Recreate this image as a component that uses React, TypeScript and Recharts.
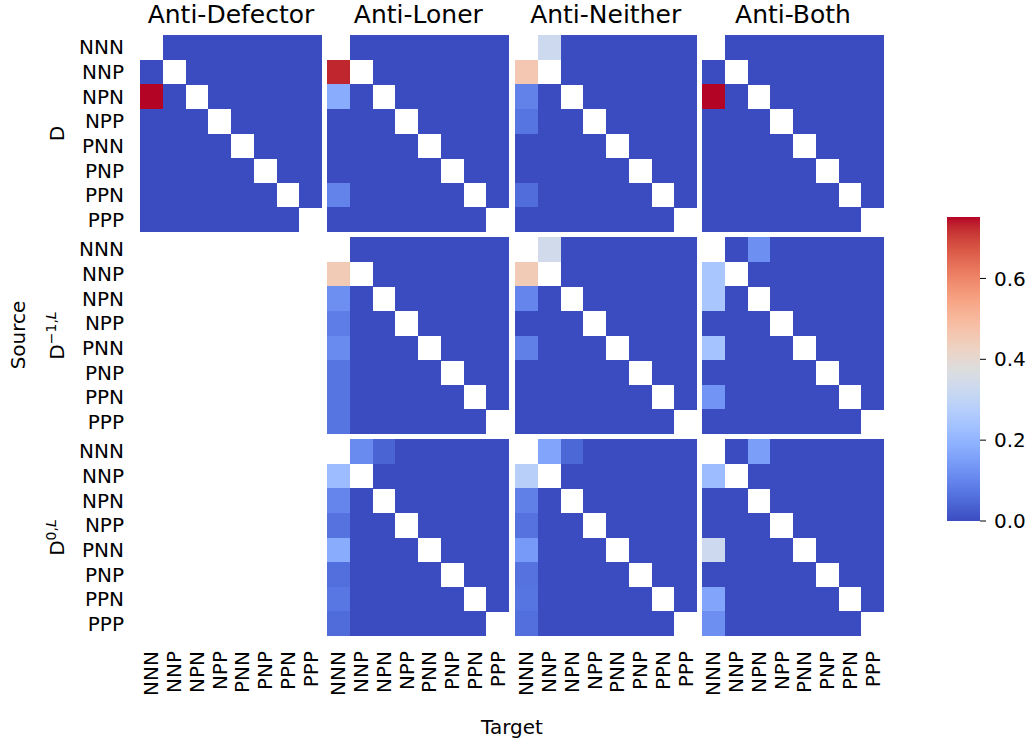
import { Bar, BarChart, Cell, XAxis, YAxis } from "recharts";

const STATES = ["NNN", "NNP", "NPN", "NPP", "PNN", "PNP", "PPN", "PPP"];
const PANEL_TITLES = ["Anti-Defector", "Anti-Loner", "Anti-Neither", "Anti-Both"];

const _ = null;

// row 1: D
const D_DEFECTOR = [
  [_, 0, 0, 0, 0, 0, 0, 0],
  [0, _, 0, 0, 0, 0, 0, 0],
  [0.752, 0, _, 0, 0, 0, 0, 0],
  [0, 0, 0, _, 0, 0, 0, 0],
  [0, 0, 0, 0, _, 0, 0, 0],
  [0, 0, 0, 0, 0, _, 0, 0],
  [0, 0, 0, 0, 0, 0, _, 0],
  [0, 0, 0, 0, 0, 0, 0, _],
];
const D_LONER = [
  [_, 0, 0, 0, 0, 0, 0, 0],
  [0.73, _, 0, 0, 0, 0, 0, 0],
  [0.18, 0, _, 0, 0, 0, 0, 0],
  [0, 0, 0, _, 0, 0, 0, 0],
  [0, 0, 0, 0, _, 0, 0, 0],
  [0, 0, 0, 0, 0, _, 0, 0],
  [0.096, 0, 0, 0, 0, 0, _, 0],
  [0, 0, 0, 0, 0, 0, 0, _],
];
const D_NEITHER = [
  [_, 0.33, 0, 0, 0, 0, 0, 0],
  [0.46, _, 0, 0, 0, 0, 0, 0],
  [0.094, 0, _, 0, 0, 0, 0, 0],
  [0.07, 0, 0, _, 0, 0, 0, 0],
  [0, 0, 0, 0, _, 0, 0, 0],
  [0, 0, 0, 0, 0, _, 0, 0],
  [0.056, 0, 0, 0, 0, 0, _, 0],
  [0, 0, 0, 0, 0, 0, 0, _],
];
const D_BOTH = [
  [_, 0, 0, 0, 0, 0, 0, 0],
  [0, _, 0, 0, 0, 0, 0, 0],
  [0.752, 0, _, 0, 0, 0, 0, 0],
  [0, 0, 0, _, 0, 0, 0, 0],
  [0, 0, 0, 0, _, 0, 0, 0],
  [0, 0, 0, 0, 0, _, 0, 0],
  [0, 0, 0, 0, 0, 0, _, 0],
  [0, 0, 0, 0, 0, 0, 0, _],
];

// no data for Anti-Defector in the L rows
const EMPTY = [
  [_, _, _, _, _, _, _, _],
  [_, _, _, _, _, _, _, _],
  [_, _, _, _, _, _, _, _],
  [_, _, _, _, _, _, _, _],
  [_, _, _, _, _, _, _, _],
  [_, _, _, _, _, _, _, _],
  [_, _, _, _, _, _, _, _],
  [_, _, _, _, _, _, _, _],
];

// row 2: D^{-1,L}
const M1_LONER = [
  [_, 0, 0, 0, 0, 0, 0, 0],
  [0.45, _, 0, 0, 0, 0, 0, 0],
  [0.12, 0, _, 0, 0, 0, 0, 0],
  [0.085, 0, 0, _, 0, 0, 0, 0],
  [0.11, 0, 0, 0, _, 0, 0, 0],
  [0.07, 0, 0, 0, 0, _, 0, 0],
  [0.07, 0, 0, 0, 0, 0, _, 0],
  [0.07, 0, 0, 0, 0, 0, 0, _],
];
const M1_NEITHER = [
  [_, 0.34, 0, 0, 0, 0, 0, 0],
  [0.45, _, 0, 0, 0, 0, 0, 0],
  [0.1, 0, _, 0, 0, 0, 0, 0],
  [0, 0, 0, _, 0, 0, 0, 0],
  [0.09, 0, 0, 0, _, 0, 0, 0],
  [0, 0, 0, 0, 0, _, 0, 0],
  [0, 0, 0, 0, 0, 0, _, 0],
  [0, 0, 0, 0, 0, 0, 0, _],
];
const M1_BOTH = [
  [_, 0, 0.12, 0, 0, 0, 0, 0],
  [0.25, _, 0, 0, 0, 0, 0, 0],
  [0.25, 0, _, 0, 0, 0, 0, 0],
  [0, 0, 0, _, 0, 0, 0, 0],
  [0.24, 0, 0, 0, _, 0, 0, 0],
  [0, 0, 0, 0, 0, _, 0, 0],
  [0.13, 0, 0, 0, 0, 0, _, 0],
  [0, 0, 0, 0, 0, 0, 0, _],
];

// row 3: D^{0,L}
const Z_LONER = [
  [_, 0.11, 0.04, 0, 0, 0, 0, 0],
  [0.22, _, 0, 0, 0, 0, 0, 0],
  [0.1, 0, _, 0, 0, 0, 0, 0],
  [0.065, 0, 0, _, 0, 0, 0, 0],
  [0.18, 0, 0, 0, _, 0, 0, 0],
  [0.06, 0, 0, 0, 0, _, 0, 0],
  [0.075, 0, 0, 0, 0, 0, _, 0],
  [0.055, 0, 0, 0, 0, 0, 0, _],
];
const Z_NEITHER = [
  [_, 0.165, 0.045, 0, 0, 0, 0, 0],
  [0.28, _, 0, 0, 0, 0, 0, 0],
  [0.09, 0, _, 0, 0, 0, 0, 0],
  [0.065, 0, 0, _, 0, 0, 0, 0],
  [0.14, 0, 0, 0, _, 0, 0, 0],
  [0.065, 0, 0, 0, 0, _, 0, 0],
  [0.07, 0, 0, 0, 0, 0, _, 0],
  [0.06, 0, 0, 0, 0, 0, 0, _],
];
const Z_BOTH = [
  [_, 0, 0.15, 0, 0, 0, 0, 0],
  [0.22, _, 0, 0, 0, 0, 0, 0],
  [0, 0, _, 0, 0, 0, 0, 0],
  [0, 0, 0, _, 0, 0, 0, 0],
  [0.33, 0, 0, 0, _, 0, 0, 0],
  [0, 0, 0, 0, 0, _, 0, 0],
  [0.165, 0, 0, 0, 0, 0, _, 0],
  [0.12, 0, 0, 0, 0, 0, 0, _],
];

const GRID = [
  [D_DEFECTOR, D_LONER, D_NEITHER, D_BOTH],
  [EMPTY, M1_LONER, M1_NEITHER, M1_BOTH],
  [EMPTY, Z_LONER, Z_NEITHER, Z_BOTH],
];

const VMAX = 0.752;
const CB_TICKS = [0, 0.2, 0.4, 0.6];

// matplotlib coolwarm, 33 samples
const COOLWARM = [
  [59, 76, 192], [68, 90, 204], [77, 104, 215], [87, 117, 225], [98, 130, 234],
  [108, 142, 241], [119, 154, 247], [130, 165, 251], [141, 176, 254], [152, 185, 255],
  [163, 194, 255], [174, 201, 253], [184, 208, 249], [194, 213, 244], [204, 217, 238],
  [213, 219, 230], [221, 221, 221], [229, 216, 209], [236, 211, 197], [241, 204, 184],
  [245, 196, 173], [247, 187, 160], [247, 177, 148], [247, 166, 135], [244, 154, 123],
  [241, 141, 111], [236, 127, 99], [229, 112, 88], [222, 96, 77], [213, 80, 66],
  [203, 62, 56], [192, 40, 47], [180, 4, 38],
];

function coolwarm(t: number) {
  const c = Math.max(0, Math.min(1, t)) * (COOLWARM.length - 1);
  const i = Math.min(Math.floor(c), COOLWARM.length - 2);
  const f = c - i;
  const a = COOLWARM[i];
  const b = COOLWARM[i + 1];
  const ch = (k: number) => Math.round(a[k] + (b[k] - a[k]) * f);
  return `rgb(${ch(0)},${ch(1)},${ch(2)})`;
}

const cellColor = (v: number | null) => (v === null ? "none" : coolwarm(v / VMAX));

// layout
const COL_X = [140, 327.33, 514.67, 702];
const ROW_Y = [35, 237, 439];
const PANEL_W = 182;
const PANEL_H = 197;
const FONT = "'DejaVu Sans', sans-serif";

const XTick = (props: any) => {
  const { x, y, payload } = props;
  return (
    <text
      x={x}
      y={y}
      transform={`rotate(-90 ${x} ${y})`}
      textAnchor="end"
      dy="0.35em"
      fontSize={20}
      fill="#000"
    >
      {STATES[Math.floor(payload.value)]}
    </text>
  );
};

function Panel({ matrix, row, col }: { matrix: (number | null)[][]; row: number; col: number }) {
  const showY = col === 0;
  const showX = row === 2;
  const left = showY ? 0 : COL_X[col];
  const yW = showY ? COL_X[0] : 0;
  const xH = showX ? 90 : 0;
  const data = STATES.map((s) => {
    const r: Record<string, number | string> = { name: s };
    STATES.forEach((_t, j) => (r[`c${j}`] = 1));
    return r;
  });
  return (
    <div style={{ position: "absolute", left, top: ROW_Y[row] }}>
      <BarChart
        width={COL_X[col] + PANEL_W - left}
        height={PANEL_H + xH}
        data={data}
        layout="vertical"
        barCategoryGap={0}
        margin={{ top: 0, right: 0, bottom: 0, left: 0 }}
      >
        <XAxis
          type="number"
          domain={[0, 8]}
          ticks={STATES.map((_t, j) => j + 0.5)}
          interval={0}
          hide={!showX}
          height={xH}
          axisLine={false}
          tickLine={false}
          tickSize={0}
          tickMargin={15}
          tick={<XTick />}
        />
        <YAxis
          type="category"
          dataKey="name"
          hide={!showY}
          width={yW}
          interval={0}
          axisLine={false}
          tickLine={false}
          tickSize={0}
          tickMargin={16}
          tick={{ fontSize: 20, fill: "#000" }}
        />
        {STATES.map((t, j) => (
          <Bar key={t} dataKey={`c${j}`} stackId="s" isAnimationActive={false}>
            {STATES.map((s, i) => (
              <Cell key={s} fill={cellColor(matrix[i][j])} />
            ))}
          </Bar>
        ))}
      </BarChart>
    </div>
  );
}

function ColorBar() {
  const pad = 16;
  return (
    <div style={{ position: "absolute", left: 947, top: 216.7 - pad }}>
      <BarChart
        width={33 + 60}
        height={304 + 2 * pad}
        data={[{ name: "cb", v: VMAX }]}
        barCategoryGap={0}
        margin={{ top: pad, right: 0, bottom: pad, left: 0 }}
      >
        <defs>
          <linearGradient id="coolwarm" x1="0" y1="1" x2="0" y2="0">
            {COOLWARM.map((c, i) => (
              <stop
                key={i}
                offset={i / (COOLWARM.length - 1)}
                stopColor={`rgb(${c[0]},${c[1]},${c[2]})`}
              />
            ))}
          </linearGradient>
        </defs>
        <XAxis dataKey="name" type="category" hide />
        <YAxis
          orientation="right"
          type="number"
          domain={[0, VMAX]}
          ticks={CB_TICKS}
          interval={0}
          width={60}
          axisLine={false}
          tickSize={6}
          tickMargin={8}
          tickLine={{ stroke: "#000", strokeWidth: 1 }}
          tick={{ fontSize: 20, fill: "#000" }}
          tickFormatter={(v: number) => v.toFixed(1)}
        />
        <Bar dataKey="v" fill="url(#coolwarm)" isAnimationActive={false} />
      </BarChart>
    </div>
  );
}

const ROW_LABELS: [string, React.ReactNode][] = [
  ["D", null],
  ["D", <>−1,<tspan fontStyle="italic">L</tspan></>],
  ["D", <>0,<tspan fontStyle="italic">L</tspan></>],
];

export default function App() {
  return (
    <div
      style={{
        position: "absolute",
        left: 0,
        top: 0,
        width: 1033,
        height: 744,
        background: "#fff",
        fontFamily: FONT,
      }}
    >
      <style>{`.recharts-rectangle{shape-rendering:crispEdges}`}</style>
      {GRID.map((r, ri) =>
        r.map((m, ci) => <Panel key={`${ri}-${ci}`} matrix={m} row={ri} col={ci} />)
      )}
      <ColorBar />
      <svg
        width={1033}
        height={744}
        style={{ position: "absolute", left: 0, top: 0, pointerEvents: "none", fontFamily: FONT }}
      >
        {PANEL_TITLES.map((t, i) => (
          <text key={t} x={COL_X[i] + PANEL_W / 2} y={22.7} textAnchor="middle" fontSize={25} fill="#000">
            {t}
          </text>
        ))}
        {ROW_LABELS.map(([base, sup], i) => {
          const x = 64;
          const y = ROW_Y[i] + PANEL_H / 2;
          return (
            <text
              key={i}
              x={x}
              y={y}
              transform={`rotate(-90 ${x} ${y})`}
              textAnchor="middle"
              fontSize={20}
              fill="#000"
            >
              {base}
              {sup && (
                <tspan dy={-8} fontSize={14}>
                  {sup}
                </tspan>
              )}
            </text>
          );
        })}
        <text x={25} y={335} transform="rotate(-90 25 335)" textAnchor="middle" fontSize={20} fill="#000">
          Source
        </text>
        <text x={512} y={734} textAnchor="middle" fontSize={20} fill="#000">
          Target
        </text>
      </svg>
    </div>
  );
}
